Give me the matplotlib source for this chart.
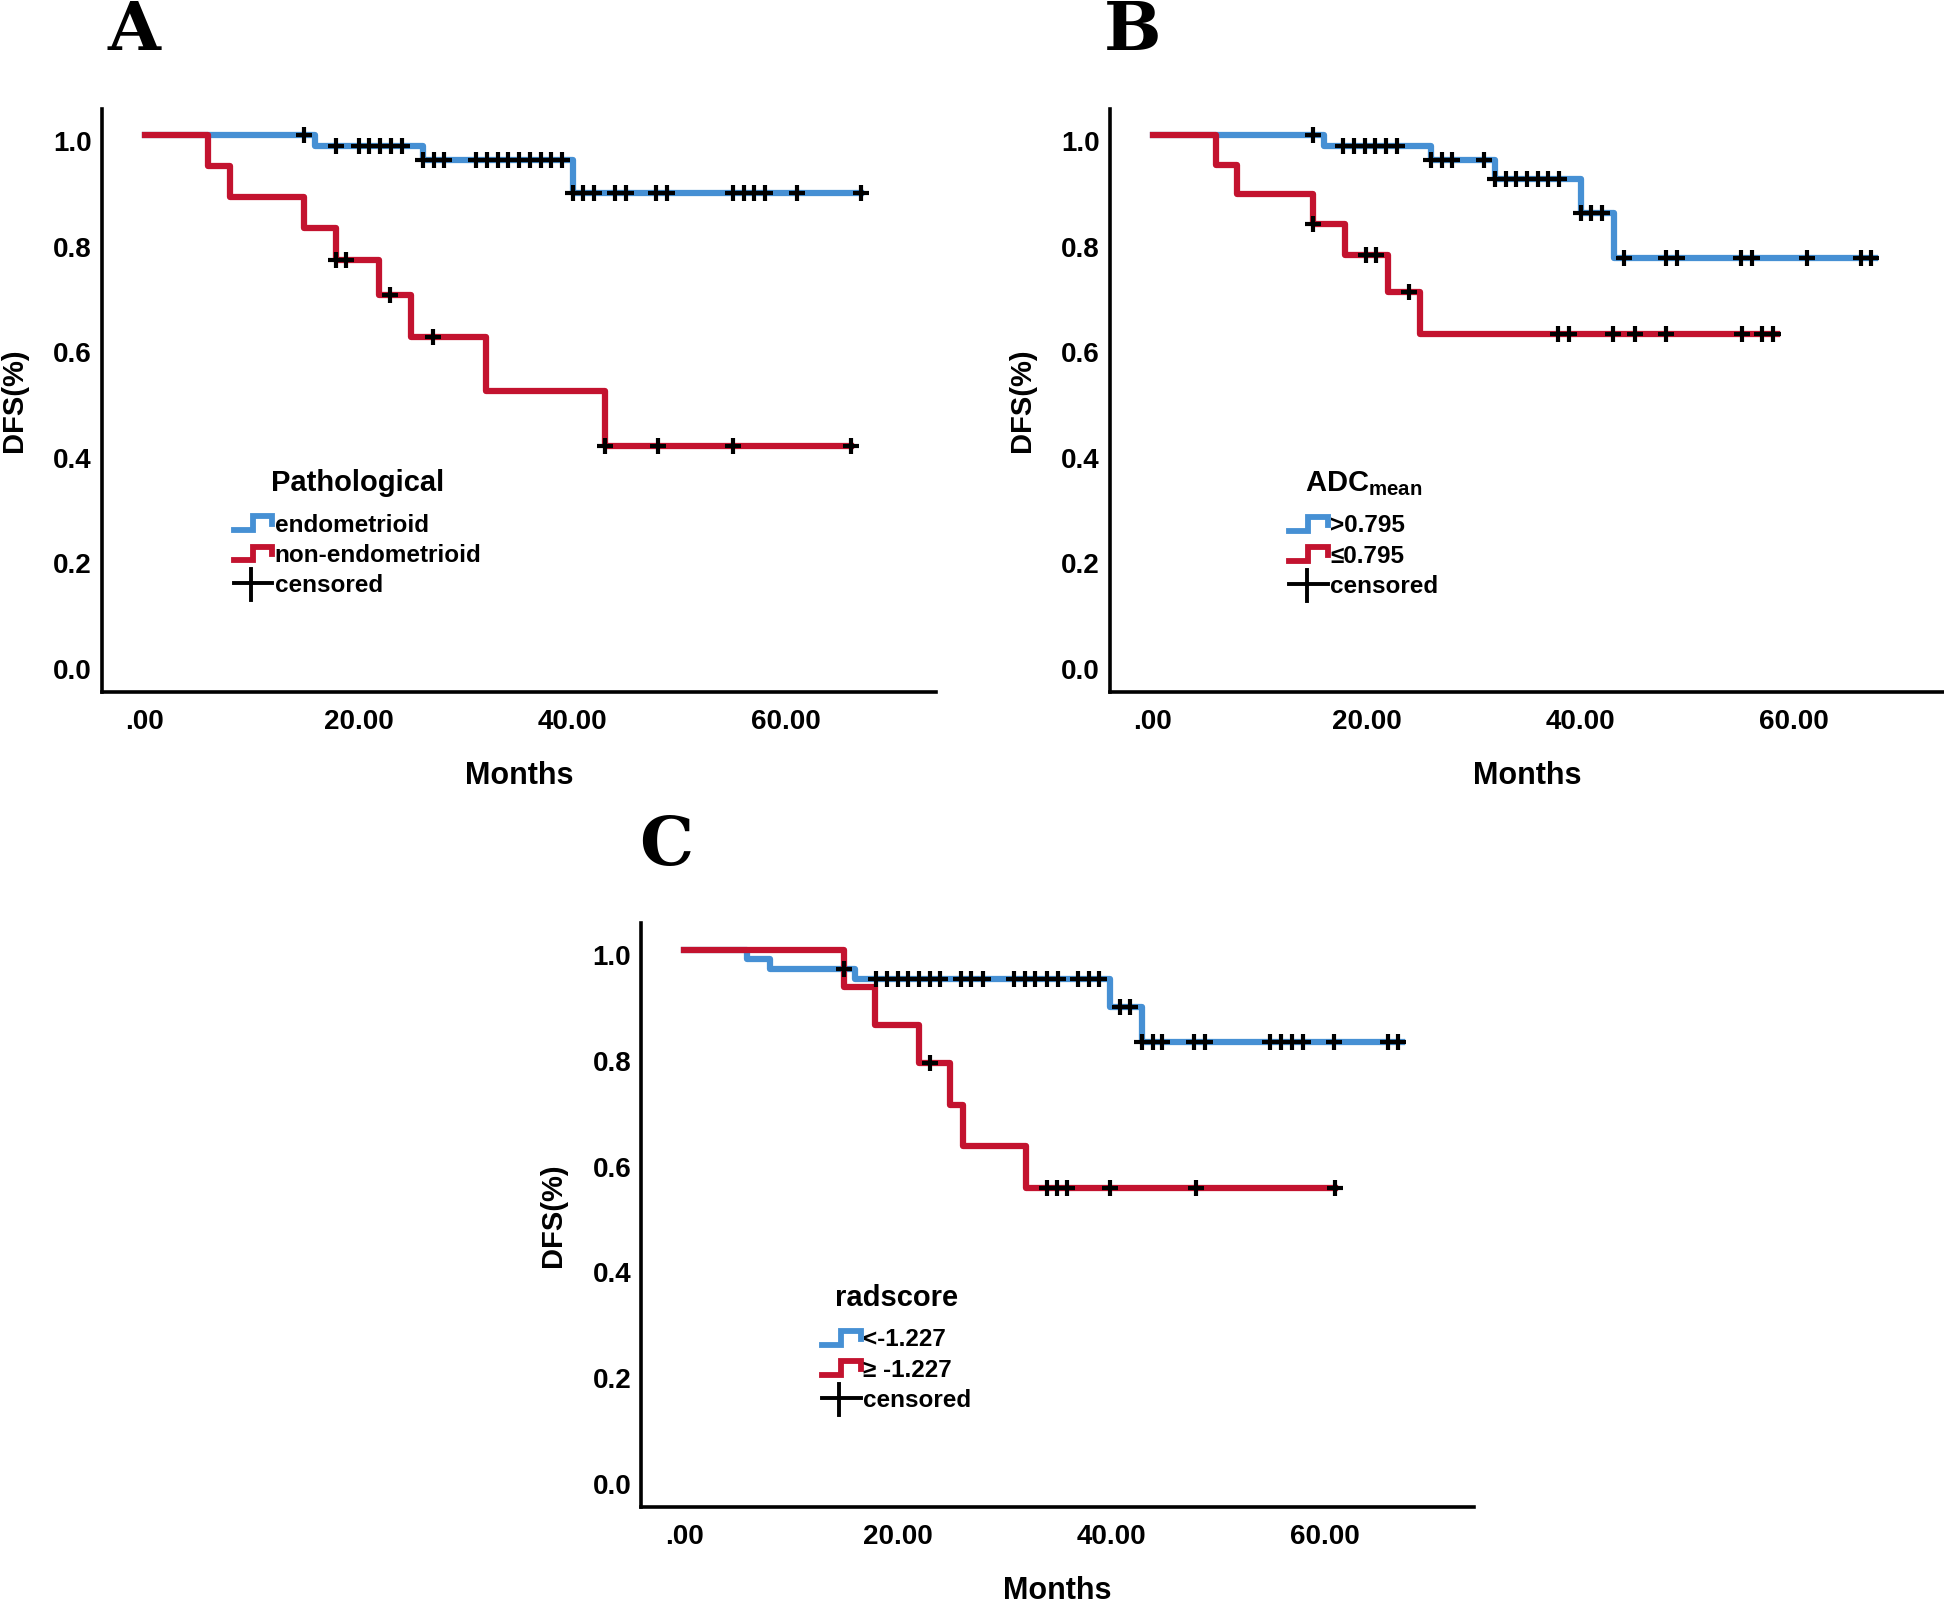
"""
Kaplan-Meier DFS curves for three stratifications (A: pathology,
B: ADCmean, C: radscore), redrawn as a three-panel figure.
"""

import numpy as np
import matplotlib.pyplot as plt
import matplotlib.transforms as mtransforms
from matplotlib.lines import Line2D
from matplotlib.legend_handler import HandlerBase

plt.rcParams['font.family'] = ['Liberation Sans', 'DejaVu Sans']
plt.rcParams['font.weight'] = 'bold'
plt.rcParams['mathtext.fontset'] = 'custom'
plt.rcParams['mathtext.rm'] = 'Liberation Sans:bold'
plt.rcParams['mathtext.bf'] = 'Liberation Sans:bold'
plt.rcParams['mathtext.it'] = 'Liberation Sans:bold'

COL_BLUE = '#4690d4'
COL_RED = '#c3132f'

# ---- Panel A: pathological type ----
A_blue_t = [0.0, 15.9, 26.0, 40.0]
A_blue_s = [1.0, 0.980, 0.954, 0.891]
A_blue_end = 67.0
A_blue_cens = [14.9, 17.9, 20.0, 21.0, 22.0, 23.0, 24.0, 26.0, 27.0, 28.0,
               31.0, 32.0, 33.0, 34.0, 35.0, 36.0, 37.0, 38.0, 39.0,
               40.0, 41.0, 42.0, 44.0, 45.0, 47.8, 48.8,
               55.0, 56.0, 57.0, 58.0, 61.0, 67.0]
A_red_t = [0.0, 5.9, 8.0, 14.9, 17.9, 21.9, 24.9, 31.9, 43.0]
A_red_s = [1.0, 0.942, 0.883, 0.824, 0.764, 0.697, 0.618, 0.515, 0.411]
A_red_end = 66.0
A_red_cens = [17.9, 18.8, 22.9, 26.9, 43.0, 48.0, 55.0, 66.0]

# ---- Panel B: ADCmean ----
B_blue_t = [0.0, 16.0, 26.0, 32.0, 40.0, 43.1]
B_blue_s = [1.0, 0.980, 0.954, 0.918, 0.853, 0.767]
B_blue_end = 67.5
B_blue_cens = [15.0, 17.8, 18.8, 19.8, 20.8, 21.8, 22.8, 26.0, 27.0, 28.0,
               31.0, 32.0, 33.0, 34.0, 35.0, 36.0, 37.0, 38.0,
               40.0, 41.0, 42.0, 44.1, 48.0, 49.0, 55.0, 56.0, 61.2,
               66.2, 67.2]
B_red_t = [0.0, 5.9, 7.9, 15.0, 18.0, 22.0, 25.0]
B_red_s = [1.0, 0.944, 0.889, 0.833, 0.773, 0.704, 0.624]
B_red_end = 58.4
B_red_cens = [15.0, 19.9, 20.9, 24.0, 37.9, 38.9, 43.0, 45.1, 48.0,
              55.1, 57.0, 58.0]

# ---- Panel C: radscore ----
C_blue_t = [0.0, 5.9, 8.0, 16.0, 39.9, 42.9]
C_blue_s = [1.0, 0.982, 0.964, 0.945, 0.891, 0.825]
C_blue_end = 67.2
C_blue_cens = [15.0, 18.0, 19.0, 20.0, 21.0, 22.0, 23.0, 24.0,
               25.9, 26.9, 28.0, 30.9, 31.9, 32.9, 34.0, 35.0,
               36.9, 37.9, 38.9, 40.8, 41.8, 42.9, 43.9, 44.8,
               47.8, 48.8, 54.9, 55.9, 56.9, 58.0, 60.9, 65.9, 66.9]
C_red_t = [0.0, 15.0, 17.9, 22.0, 24.9, 26.1, 32.0]
C_red_s = [1.0, 0.930, 0.857, 0.785, 0.707, 0.628, 0.550]
C_red_end = 61.0
C_red_cens = [23.0, 34.0, 34.9, 35.9, 39.9, 47.9, 61.0]

x_ticks = [0, 20, 40, 60]
x_ticklabels = ['.00', '20.00', '40.00', '60.00']
y_ticks = [0.0, 0.2, 0.4, 0.6, 0.8, 1.0]
y_ticklabels = ['0.0', '0.2', '0.4', '0.6', '0.8', '1.0']


class StepHandler(HandlerBase):
    """Legend key drawn as a small step."""
    def create_artists(self, legend, orig_handle, xdescent, ydescent,
                       width, height, fontsize, trans):
        x = np.array([0.0, 0.5, 0.5, 1.0, 1.0]) * width - xdescent
        y = np.array([0.1, 0.1, 0.9, 0.9, 0.45]) * height - ydescent
        ln = Line2D(x, y, color=orig_handle.get_color(), lw=4.2,
                    solid_joinstyle='miter', transform=trans)
        return [ln]


class CensorHandler(HandlerBase):
    """Legend key drawn as a large plus."""
    def create_artists(self, legend, orig_handle, xdescent, ydescent,
                       width, height, fontsize, trans):
        h = Line2D(np.array([0.0, 1.0]) * width - xdescent,
                   np.array([0.55, 0.55]) * height - ydescent,
                   color='black', lw=2.8, transform=trans)
        v = Line2D(np.array([0.45, 0.45]) * width - xdescent,
                   np.array([-0.45, 1.35]) * height - ydescent,
                   color='black', lw=2.8, transform=trans)
        return [h, v]


def km_level(times, surv, t):
    idx = np.searchsorted(times, t, side='right') - 1
    return np.asarray(surv)[idx]


def draw_panel(ax, blue, red, title, labels, leg_anchor):
    for (t, s, end, cens), col in [(blue, COL_BLUE), (red, COL_RED)]:
        tt = np.append(t, end)
        ss = np.append(s, s[-1])
        ax.step(tt, ss, where='post', color=col, lw=4.5, zorder=2)
    for (t, s, end, cens) in (blue, red):
        cens = np.asarray(cens)
        ax.plot(cens, km_level(np.asarray(t), s, cens), ls='none',
                marker='+', ms=11, mew=3.0, color='black', zorder=3)

    ax.set_xlim(-4.05, 74.0)
    ax.set_ylim(-0.055, 1.05)
    ax.set_xticks(x_ticks)
    ax.set_xticklabels(x_ticklabels)
    ax.set_yticks(y_ticks)
    ax.set_yticklabels(y_ticklabels)
    ax.tick_params(axis='both', length=0, labelsize=20)
    ax.tick_params(axis='x', pad=12)
    ax.tick_params(axis='y', pad=7)
    offset = mtransforms.ScaledTranslation(0, -4 / 72, ax.figure.dpi_scale_trans)
    for lab in ax.get_yticklabels():
        lab.set_transform(lab.get_transform() + offset)
    for side in ('top', 'right'):
        ax.spines[side].set_visible(False)
    for side in ('left', 'bottom'):
        ax.spines[side].set_linewidth(2.6)
    ax.set_xlabel('Months', fontsize=22, fontweight='bold', labelpad=19)
    ax.set_ylabel('DFS(%)', fontsize=21, fontweight='bold', labelpad=18)

    h_b = Line2D([], [], color=COL_BLUE)
    h_r = Line2D([], [], color=COL_RED)
    h_c = Line2D([], [], color='black')
    leg = ax.legend([h_b, h_r, h_c], labels, loc='upper left',
                    bbox_to_anchor=leg_anchor, frameon=False, borderpad=0,
                    borderaxespad=0, title=title,
                    title_fontproperties={'size': 21, 'weight': 'bold'},
                    prop={'size': 17.5, 'weight': 'bold'},
                    handlelength=1.6, handletextpad=0.1, labelspacing=0.3,
                    handler_map={h_b: StepHandler(), h_r: StepHandler(),
                                 h_c: CensorHandler()})
    # wider gap between legend title and its entries
    leg._legend_box.sep = 12


fig = plt.figure(figsize=(19.44, 16.04), dpi=100)
axA = fig.add_axes([0.0523, 0.5684, 0.4292, 0.3636])
axB = fig.add_axes([0.5708, 0.5684, 0.4292, 0.3636])
axC = fig.add_axes([0.3297, 0.0603, 0.4286, 0.3640])

draw_panel(axA, (A_blue_t, A_blue_s, A_blue_end, A_blue_cens),
           (A_red_t, A_red_s, A_red_end, A_red_cens),
           'Pathological', ['endometrioid', 'non-endometrioid', 'censored'],
           (0.158, 0.383))
draw_panel(axB, (B_blue_t, B_blue_s, B_blue_end, B_blue_cens),
           (B_red_t, B_red_s, B_red_end, B_red_cens),
           r'$\mathbf{ADC_{mean}}$', ['>0.795', '\u22640.795', 'censored'],
           (0.215, 0.383))
draw_panel(axC, (C_blue_t, C_blue_s, C_blue_end, C_blue_cens),
           (C_red_t, C_red_s, C_red_end, C_red_cens),
           'radscore', ['<-1.227', '\u2265 -1.227', 'censored'],
           (0.217, 0.383))

for letter, (x, y) in {'A': (134, 31), 'B': (1133, 31), 'C': (666, 847)}.items():
    fig.text(x / 1944, 1 - y / 1604, letter, ha='center', va='center',
             fontsize=49, fontweight='bold', family='DejaVu Serif')

fig.savefig('out.png', dpi=100)
